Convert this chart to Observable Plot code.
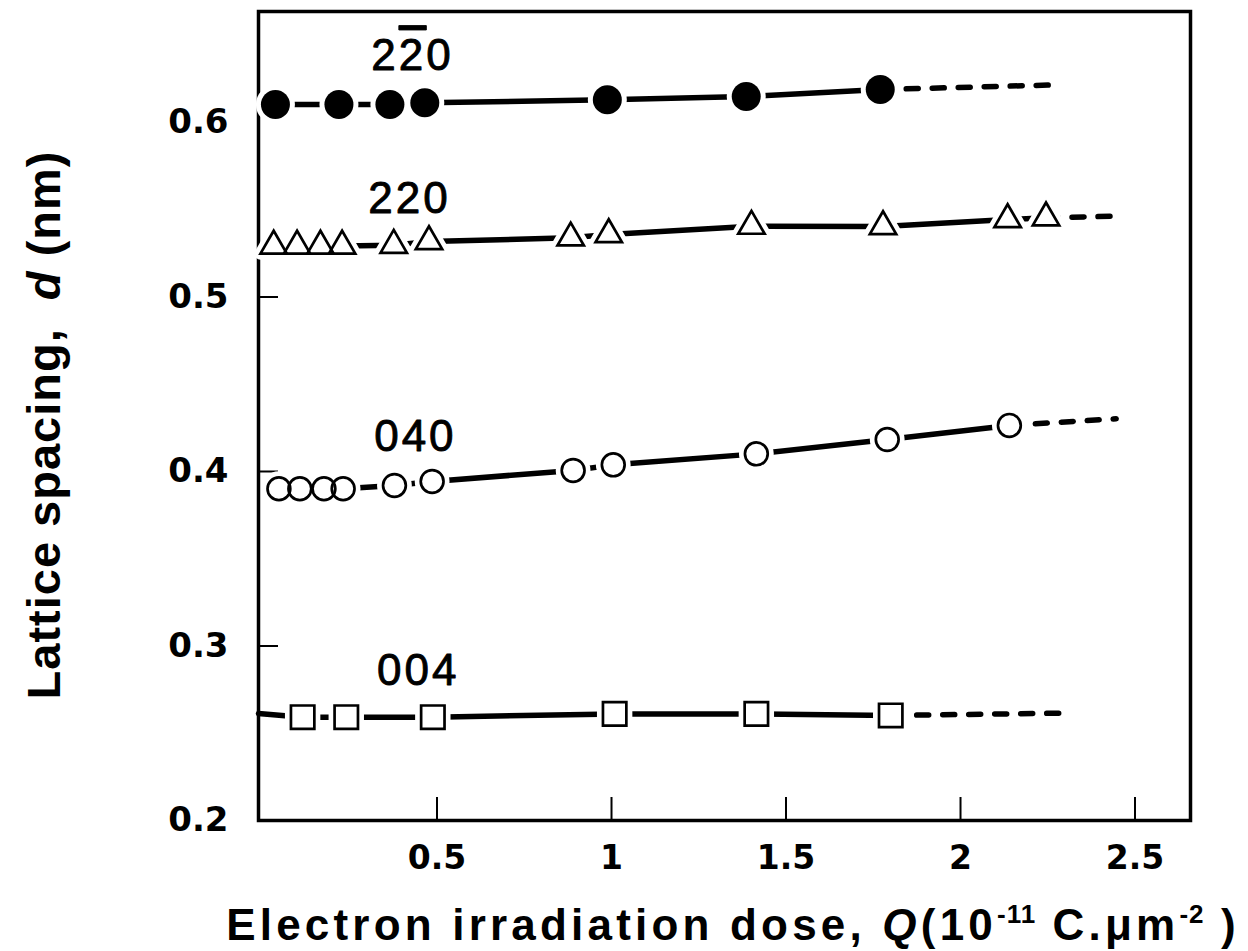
<!DOCTYPE html>
<html>
<head>
<meta charset="utf-8">
<script src="https://cdn.jsdelivr.net/npm/d3@7"></script>
<script src="https://cdn.jsdelivr.net/npm/@observablehq/plot@0.6"></script>
<style>
  html, body { margin: 0; padding: 0; background: #fff; }
</style>
</head>
<body>
<div id="chart"></div>
<script>
// ---------- scales / ticks ----------
const xDomain = [-0.0115, 2.659];
const yDomain = [0.2, 0.6636];
const xTicks = [0.5, 1, 1.5, 2, 2.5];
const yTicks = [0.2, 0.3, 0.4, 0.5, 0.6];
const yInnerTicks = [0.3, 0.4, 0.5];

// ---------- series: reflection 2-bar-2-0 (filled circles) ----------
const q2b20 = [0.037, 0.219, 0.365, 0.465, 0.988, 1.386, 1.770];
const d2b20 = [0.6103, 0.6103, 0.6103, 0.6113, 0.6130, 0.6149, 0.6189];
const ext2b20 = [1.770, 2.281];
const extD2b20 = [0.6189, 0.6216];

// ---------- series: 220 (open triangles) ----------
const q220 = [0.032, 0.099, 0.166, 0.228, 0.376, 0.477, 0.883, 0.992, 1.401, 1.778, 2.135, 2.245];
const d220 = [0.5292, 0.5292, 0.5292, 0.5292, 0.5297, 0.5318, 0.5339, 0.5358, 0.5406, 0.5404, 0.5444, 0.5454];
const ext220 = [2.245, 2.441];
const extD220 = [0.5454, 0.5463];

// ---------- series: 040 (open circles) ----------
const q040 = [0.047, 0.107, 0.176, 0.231, 0.378, 0.486, 0.890, 1.005, 1.415, 1.790, 2.140];
const d040 = [0.3901, 0.3901, 0.3901, 0.3901, 0.3920, 0.3943, 0.4006, 0.4038, 0.4101, 0.4183, 0.4264];
const ext040 = [2.140, 2.446];
const extD040 = [0.4264, 0.4302];

// ---------- series: 004 (open squares) ----------
const q004 = [0.115, 0.240, 0.488, 1.009, 1.415, 1.800];
const d004 = [0.2592, 0.2592, 0.2592, 0.2611, 0.2611, 0.2602];
const start004 = [-0.0115, 0.2613];
const ext004 = [1.800, 2.285];
const extD004 = [0.2602, 0.2615];

// ---------- labels ----------
const labelText = ["22\u03040", "220", "040", "004"];
const labelQ = [0.430, 0.421, 0.438, 0.446];
const labelD = [0.6384, 0.5564, 0.4201, 0.2860];

// ---------- build tables ----------
const pts = (qs, ds, s) => qs.map((q, i) => ({q, d: ds[i], s}));
const P2b20 = pts(q2b20, d2b20, "2b20");
const P220 = pts(q220, d220, "220");
const P040 = pts(q040, d040, "040");
const P004 = pts(q004, d004, "004");

const solid = [
  ...P2b20, ...P220, ...P040,
  {q: start004[0], d: start004[1], s: "004"}, ...P004
];
const dashed = [
  ...pts(ext2b20, extD2b20, "2b20"),
  ...pts(ext220, extD220, "220"),
  ...pts(ext040, extD040, "040"),
  ...pts(ext004, extD004, "004")
];
const labels = labelText.map((t, i) => ({t, q: labelQ[i], d: labelD[i]}));

const markerSpec = [
  {data: P2b20, symbol: "circle", r: 14.5, fill: "black", stroke: "none", sw: 0, halo: 10},
  {data: P220, symbol: "triangle", r: 9.8, fill: "none", stroke: "black", sw: 2.7, halo: 12},
  {data: P040, symbol: "circle", r: 11.4, fill: "none", stroke: "black", sw: 2.7, halo: 12},
  {data: P004, symbol: "square", r: 13.2, fill: "none", stroke: "black", sw: 2.7, halo: 12}
];

const halos = markerSpec.map(m => Plot.dot(m.data, {
  x: "q", y: "d", symbol: m.symbol, r: m.r,
  fill: "white", stroke: "white", strokeWidth: m.halo, strokeLinejoin: "round"
}));
const markers = markerSpec.map(m => Plot.dot(m.data, {
  x: "q", y: "d", symbol: m.symbol, r: m.r,
  fill: m.fill, stroke: m.stroke, strokeWidth: m.sw, strokeLinejoin: "miter"
}));

const svg = Plot.plot({
  width: 1248,
  height: 951,
  marginLeft: 258,
  marginRight: 58,
  marginTop: 11,
  marginBottom: 131,
  x: {domain: xDomain},
  y: {domain: yDomain},
  style: {background: "white", color: "black", overflow: "visible"},
  marks: [
    Plot.frame({stroke: "black", strokeWidth: 3.5}),
    Plot.axisX({ticks: xTicks, tickSize: 0, tickPadding: 25, fontSize: 33, fontWeight: "bold",
      fontFamily: "DejaVu Sans", tickFormat: d => String(d), label: null}),
    Plot.axisX({ticks: xTicks, tickSize: -23, strokeWidth: 2, fill: "none", label: null}),
    Plot.axisY({ticks: yTicks, tickSize: 0, tickPadding: 30, fontSize: 34, fontWeight: "bold",
      fontFamily: "DejaVu Sans", tickFormat: d3.format(".1f"), label: null}),
    Plot.axisY({ticks: yInnerTicks, tickSize: -20, strokeWidth: 2, fill: "none", label: null}),
    Plot.line(solid, {x: "q", y: "d", z: "s", stroke: "black", strokeWidth: 5.5, strokeLinecap: "round"}),
    Plot.line(dashed, {x: "q", y: "d", z: "s", stroke: "black", strokeWidth: 5.5,
      strokeLinecap: "round", strokeDasharray: "12,14"}),
    ...halos,
    ...markers,
    Plot.text(labels, {x: "q", y: "d", text: "t", fontSize: 44, fontFamily: "Liberation Sans",
      textAnchor: "middle", fill: "black", stroke: "black", strokeWidth: 0.9})
  ]
});

document.getElementById("chart").appendChild(svg);

// ---------- post-process: overbar label, letter spacing, axis titles ----------
const root = d3.select(svg);
root.selectAll("text").each(function () {
  const el = d3.select(this);
  if (this.textContent.includes("\u0304")) {
    el.text(null);
    el.append("tspan").text("2");
    el.append("tspan").style("text-decoration", "overline").text("2");
    el.append("tspan").text("0");
  }
});
root.selectAll("g[aria-label='text'] text").attr("letter-spacing", "3px");

const xt = root.append("text")
  .attr("x", 733).attr("y", 940)
  .attr("text-anchor", "middle")
  .attr("font-family", "Liberation Sans, Arial, sans-serif")
  .attr("font-weight", "bold")
  .attr("font-size", 44)
  .attr("letter-spacing", "4.2px")
  .attr("fill", "black");
xt.append("tspan").text("Electron irradiation dose, ");
xt.append("tspan").attr("font-style", "italic").text("Q");
xt.append("tspan").text("(10");
xt.append("tspan").attr("font-size", 26).attr("dy", -17).attr("letter-spacing", "1px").text("-11");
xt.append("tspan").attr("dy", 17).text("\u00A0C.\u03BCm");
xt.append("tspan").attr("font-size", 26).attr("dy", -17).attr("letter-spacing", "1px").text("-2");
xt.append("tspan").attr("dy", 17).text("\u00A0)");

const yt = root.append("text")
  .attr("transform", "translate(60,425) rotate(-90)")
  .attr("text-anchor", "middle")
  .attr("font-family", "Liberation Sans, Arial, sans-serif")
  .attr("font-weight", "bold")
  .attr("font-size", 47)
  .attr("letter-spacing", "1px")
  .attr("fill", "black");
yt.append("tspan").text("Lattice spacing,\u00A0\u00A0");
yt.append("tspan").attr("font-style", "italic").text("d");
yt.append("tspan").text("\u00A0(nm)");
</script>
</body>
</html>
